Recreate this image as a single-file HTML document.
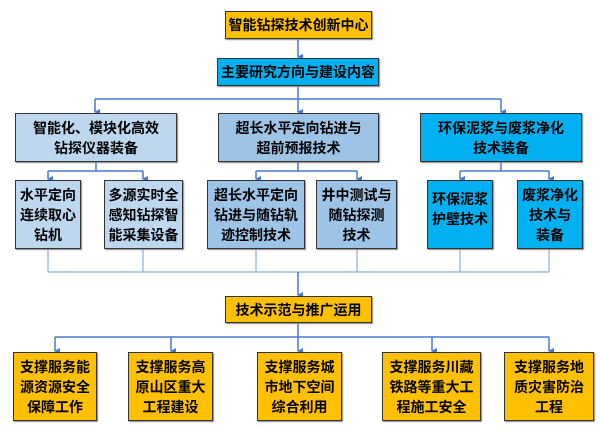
<!DOCTYPE html>
<html><head><meta charset="utf-8"><style>
body{margin:0;background:#fff;width:600px;height:430px;position:relative;overflow:hidden;font-family:"Liberation Sans","Noto Sans CJK SC",sans-serif;}
.b{position:absolute;box-sizing:border-box;border:1.5px solid #333;display:flex;align-items:center;justify-content:center;text-align:center;font-weight:bold;font-size:14px;line-height:20px;color:#000;box-shadow:1px 1px 1px #888;}
.y{background:#ffc000}.c{background:#00b0f0}.l{background:#bdd7ee}.m{background:#9dc3e6}
svg{position:absolute;left:0;top:0}
</style></head><body>
<svg width="600" height="430">
<defs><marker id="a" markerWidth="6" markerHeight="6" refX="3" refY="5" orient="auto" markerUnits="userSpaceOnUse"><path d="M0,0 L6,0 L3,6 z" fill="#4a78d0"/></marker></defs>
<g stroke="#4a78d0" stroke-width="1.5" fill="none">
<line x1="298" y1="38" x2="298" y2="57" marker-end="url(#a)"/>
<line x1="298" y1="86" x2="298" y2="99"/>
<line x1="95" y1="99" x2="501" y2="99"/>
<line x1="95" y1="99" x2="95" y2="112" marker-end="url(#a)"/>
<line x1="298" y1="99" x2="298" y2="112" marker-end="url(#a)"/>
<line x1="501" y1="99" x2="501" y2="112" marker-end="url(#a)"/>
<line x1="96" y1="162" x2="96" y2="171"/><line x1="48" y1="171" x2="143" y2="171"/>
<line x1="48" y1="171" x2="48" y2="179" marker-end="url(#a)"/><line x1="143" y1="171" x2="143" y2="179" marker-end="url(#a)"/>
<line x1="298" y1="162" x2="298" y2="171"/><line x1="256" y1="171" x2="357" y2="171"/>
<line x1="256" y1="171" x2="256" y2="179" marker-end="url(#a)"/><line x1="357" y1="171" x2="357" y2="179" marker-end="url(#a)"/>
<line x1="501" y1="162" x2="501" y2="171"/><line x1="460" y1="171" x2="549" y2="171"/>
<line x1="460" y1="171" x2="460" y2="179" marker-end="url(#a)"/><line x1="549" y1="171" x2="549" y2="179" marker-end="url(#a)"/>
</g>
<g stroke="#8aaee0" stroke-width="1.2" fill="none">
<line x1="48" y1="249" x2="48" y2="272"/><line x1="143" y1="249" x2="143" y2="272"/>
<line x1="256" y1="249" x2="256" y2="272"/><line x1="357" y1="249" x2="357" y2="272"/>
<line x1="460" y1="249" x2="460" y2="272"/><line x1="549" y1="249" x2="549" y2="272"/>
<line x1="48" y1="272" x2="549" y2="272"/>
</g>
<g stroke="#4a78d0" stroke-width="1.5" fill="none">
<line x1="298" y1="272" x2="298" y2="295" marker-end="url(#a)"/>
<line x1="298" y1="323" x2="298" y2="337"/>
<line x1="55" y1="337" x2="549" y2="337"/>
<line x1="55" y1="337" x2="55" y2="351" marker-end="url(#a)"/>
<line x1="171" y1="337" x2="171" y2="351" marker-end="url(#a)"/>
<line x1="298" y1="337" x2="298" y2="351" marker-end="url(#a)"/>
<line x1="432" y1="337" x2="432" y2="351" marker-end="url(#a)"/>
<line x1="549" y1="337" x2="549" y2="351" marker-end="url(#a)"/>
</g>
</svg>
<div class="b y" style="left:225px;top:11px;width:147px;height:28px">智能钻探技术创新中心</div>
<div class="b c" style="left:217px;top:58px;width:162px;height:28px">主要研究方向与建设内容</div>
<div class="b l" style="left:15px;top:113px;width:162px;height:49px">智能化、模块化高效<br>钻探仪器装备</div>
<div class="b m" style="left:218px;top:113px;width:161px;height:49px">超长水平定向钻进与<br>超前预报技术</div>
<div class="b c" style="left:420px;top:113px;width:162px;height:49px">环保泥浆与废浆净化<br>技术装备</div>
<div class="b l" style="left:15px;top:180px;width:66px;height:69px">水平定向<br>连续取心<br>钻机</div>
<div class="b l" style="left:104px;top:180px;width:79px;height:69px">多源实时全<br>感知钻探智<br>能采集设备</div>
<div class="b m" style="left:207px;top:180px;width:98px;height:69px">超长水平定向<br>钻进与随钻轨<br>迹控制技术</div>
<div class="b m" style="left:316px;top:180px;width:81px;height:69px">井中测试与<br>随钻探测<br>技术</div>
<div class="b c" style="left:427px;top:180px;width:66px;height:69px;align-items:flex-start;padding-top:8px">环保泥浆<br>护壁技术</div>
<div class="b c" style="left:517px;top:180px;width:66px;height:69px">废浆净化<br>技术与<br>装备</div>
<div class="b y" style="left:225px;top:296px;width:147px;height:27px">技术示范与推广运用</div>
<div class="b y" style="left:13px;top:352px;width:84px;height:69px">支撑服务能<br>源资源安全<br>保障工作</div>
<div class="b y" style="left:128px;top:352px;width:85px;height:69px">支撑服务高<br>原山区重大<br>工程建设</div>
<div class="b y" style="left:257px;top:352px;width:85px;height:69px">支撑服务城<br>市地下空间<br>综合利用</div>
<div class="b y" style="left:382px;top:352px;width:99px;height:69px">支撑服务川藏<br>铁路等重大工<br>程施工安全</div>
<div class="b y" style="left:504px;top:352px;width:90px;height:69px">支撑服务地<br>质灾害防治<br>工程</div>
</body></html>
